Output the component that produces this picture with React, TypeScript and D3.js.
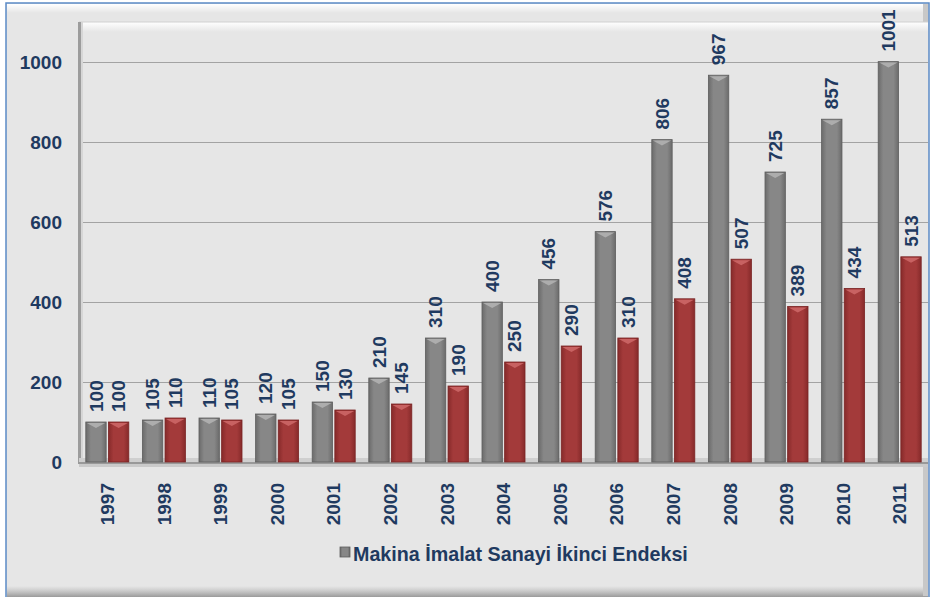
import React, { useEffect, useRef } from 'react';
import * as d3 from 'd3';

const years = ["1997", "1998", "1999", "2000", "2001", "2002", "2003", "2004", "2005", "2006", "2007", "2008", "2009", "2010", "2011"];
const greyValues = [100, 105, 110, 120, 150, 210, 310, 400, 456, 576, 806, 967, 725, 857, 1001];
const redValues = [100, 110, 105, 105, 130, 145, 190, 250, 290, 310, 408, 507, 389, 434, 513];
const yTicks = [0, 200, 400, 600, 800, 1000];
const legendLabel = "Makina İmalat Sanayi İkinci Endeksi";

const W = 931;
const H = 597;
const TEXT = "#1f3a60";
const FONT = "'Liberation Sans', Arial, sans-serif";

const App: React.FC = () => {
  const ref = useRef<SVGSVGElement | null>(null);

  useEffect(() => {
    if (!ref.current) return;
    const svg = d3.select(ref.current);
    svg.selectAll("*").remove();

    const plot = { left: 79, right: 928, top: 22, bottom: 462 };

    const x0 = d3.scaleBand()
      .domain(years)
      .range([plot.left, plot.right])
      .paddingInner(0.24)
      .paddingOuter(0.12);

    const x1 = d3.scaleBand()
      .domain(["grey", "red"])
      .range([0, x0.bandwidth()])
      .paddingInner(0.1);

    const y = d3.scaleLinear().domain([0, 1100]).range([plot.bottom, plot.top]);

    const defs = svg.append("defs");
    const hGrad = (id: string, edge: string, mid: string) => {
      const g = defs.append("linearGradient").attr("id", id).attr("x1", "0").attr("x2", "1").attr("y1", "0").attr("y2", "0");
      g.append("stop").attr("offset", "0%").attr("stop-color", edge);
      g.append("stop").attr("offset", "25%").attr("stop-color", mid);
      g.append("stop").attr("offset", "75%").attr("stop-color", mid);
      g.append("stop").attr("offset", "100%").attr("stop-color", edge);
    };
    hGrad("greyGrad", "#6b6b6b", "#878787");
    hGrad("redGrad", "#862a2a", "#a33a3a");

    const vGrad = (id: string, stops: [string, string, number][]) => {
      const g = defs.append("linearGradient").attr("id", id).attr("x1", "0").attr("x2", "0").attr("y1", "0").attr("y2", "1");
      stops.forEach(([o, c, op]) => g.append("stop").attr("offset", o).attr("stop-color", c).attr("stop-opacity", op));
    };
    vGrad("topBevel", [["0%", "#ffffff", 1], ["100%", "#ffffff", 0]]);
    vGrad("bottomShade", [["0%", "#b0b0b0", 0], ["100%", "#9a9a9a", 1]]);

    // outer panel
    svg.append("rect").attr("x", 0).attr("y", 0).attr("width", W).attr("height", H).attr("fill", "#ffffff");
    svg.append("rect").attr("x", 6).attr("y", 3).attr("width", 923).attr("height", 600)
      .attr("fill", "#e6e6e6").attr("stroke", "#5b8ac6").attr("stroke-width", 1.5);
    svg.append("rect").attr("x", 7).attr("y", 4).attr("width", 921).attr("height", 9).attr("fill", "url(#topBevel)");
    svg.append("rect").attr("x", 7).attr("y", 586).attr("width", 921).attr("height", 11).attr("fill", "url(#bottomShade)");
    svg.append("rect").attr("x", 923).attr("y", 4).attr("width", 5).attr("height", 592).attr("fill", "#c8c8c8");

    // plot area
    svg.append("rect").attr("x", plot.left).attr("y", plot.top).attr("width", plot.right - plot.left).attr("height", plot.bottom - plot.top)
      .attr("fill", "#e6e6e6");
    svg.append("rect").attr("x", plot.left).attr("y", plot.top).attr("width", plot.right - plot.left).attr("height", 10)
      .attr("fill", "url(#topBevel)");
    svg.append("line").attr("x1", plot.left).attr("x2", plot.right).attr("y1", plot.top).attr("y2", plot.top)
      .attr("stroke", "#d0d0d0");

    // gridlines
    svg.append("g").selectAll("line")
      .data(yTicks.filter(t => t > 0))
      .join("line")
      .attr("x1", plot.left).attr("x2", plot.right)
      .attr("y1", d => Math.round(y(d)) + 0.5).attr("y2", d => Math.round(y(d)) + 0.5)
      .attr("stroke", "#a3a3a3").attr("stroke-width", 1);

    // left wall
    svg.append("rect").attr("x", plot.left - 1).attr("y", plot.top).attr("width", 3).attr("height", plot.bottom - plot.top + 2)
      .attr("fill", "#9c9c9c");
    svg.append("rect").attr("x", plot.left + 2).attr("y", plot.top).attr("width", 2).attr("height", plot.bottom - plot.top)
      .attr("fill", "#d6d6d6");

    // floor
    svg.append("rect").attr("x", plot.left).attr("y", plot.bottom - 4).attr("width", plot.right - plot.left).attr("height", 4)
      .attr("fill", "#cfcfcf");
    svg.append("rect").attr("x", plot.left - 1).attr("y", plot.bottom).attr("width", plot.right - plot.left + 1).attr("height", 2)
      .attr("fill", "#999999");
    svg.append("rect").attr("x", plot.left).attr("y", plot.bottom + 2).attr("width", plot.right - plot.left).attr("height", 3)
      .attr("fill", "#cacaca");

    // bars
    const rows = years.map((yr, i) => ({ yr, grey: greyValues[i], red: redValues[i] }));
    const series = [
      { key: "grey", fill: "url(#greyGrad)", stroke: "#5e5e5e", bevel: "#b4b4b4" },
      { key: "red", fill: "url(#redGrad)", stroke: "#7a2424", bevel: "#cf6a6a" },
    ];

    const groups = svg.append("g").selectAll("g")
      .data(rows)
      .join("g")
      .attr("transform", d => `translate(${x0(d.yr)},0)`);

    series.forEach(s => {
      const bw = x1.bandwidth();
      groups.append("rect")
        .attr("x", (x1(s.key) || 0))
        .attr("y", d => y((d as any)[s.key]))
        .attr("width", bw)
        .attr("height", d => plot.bottom - y((d as any)[s.key]))
        .attr("fill", s.fill)
        .attr("stroke", s.stroke)
        .attr("stroke-width", 0.8);
      groups.append("path")
        .attr("d", d => {
          const bx = x1(s.key) || 0;
          const by = y((d as any)[s.key]);
          return `M${bx + 1},${by + 1}L${bx + bw - 1},${by + 1}L${bx + bw / 2},${by + 6}Z`;
        })
        .attr("fill", s.bevel)
        .attr("opacity", 0.85);
      groups.append("text")
        .attr("transform", d => `translate(${(x1(s.key) || 0) + bw / 2},${y((d as any)[s.key]) - 10}) rotate(-90)`)
        .attr("dy", "0.35em")
        .attr("text-anchor", "start")
        .attr("font-family", FONT)
        .attr("font-weight", "bold")
        .attr("font-size", 19)
        .attr("fill", TEXT)
        .text(d => String((d as any)[s.key]));
    });

    // y-axis labels
    svg.append("g").selectAll("text")
      .data(yTicks)
      .join("text")
      .attr("x", 62)
      .attr("y", d => y(d))
      .attr("dy", "0.35em")
      .attr("text-anchor", "end")
      .attr("font-family", FONT)
      .attr("font-weight", "bold")
      .attr("font-size", 19)
      .attr("fill", TEXT)
      .text(d => String(d));

    // x-axis labels
    svg.append("g").selectAll("text")
      .data(years)
      .join("text")
      .attr("transform", d => `translate(${(x0(d) || 0) + x0.bandwidth() / 2},483) rotate(-90)`)
      .attr("dy", "0.35em")
      .attr("text-anchor", "end")
      .attr("font-family", FONT)
      .attr("font-weight", "bold")
      .attr("font-size", 19)
      .attr("fill", TEXT)
      .text(d => d);

    // legend
    const legend = svg.append("g").attr("transform", "translate(340,547)");
    legend.append("rect").attr("width", 10).attr("height", 10).attr("fill", "url(#greyGrad)").attr("stroke", "#5e5e5e").attr("stroke-width", 0.8);
    legend.append("text")
      .attr("x", 13)
      .attr("y", 14)
      .attr("font-family", FONT)
      .attr("font-weight", "bold")
      .attr("font-size", 19.7)
      .attr("fill", TEXT)
      .text(legendLabel);
  }, []);

  return (
    <svg ref={ref} width={W} height={H} style={{ position: "absolute", left: 0, top: 0, display: "block" }} />
  );
};

export default App;
